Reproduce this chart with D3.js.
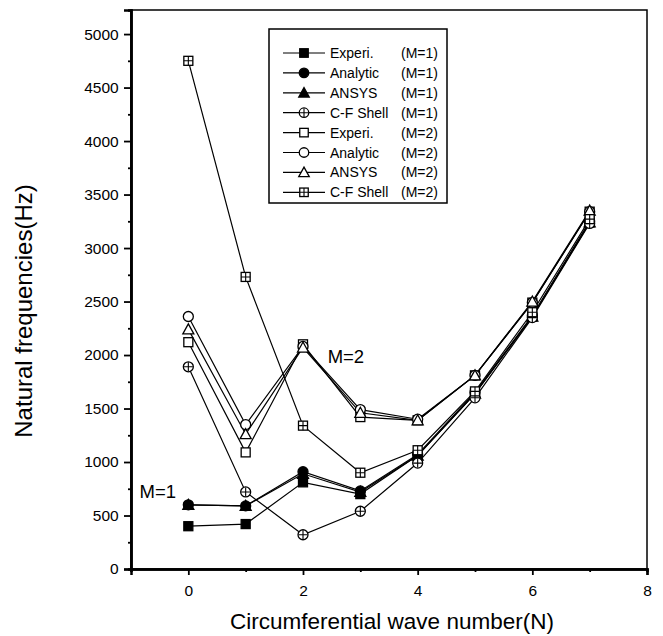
<!DOCTYPE html>
<html>
<head>
<meta charset="utf-8">
<script src="https://cdn.jsdelivr.net/npm/d3@7"></script>
<style>
  body { margin: 0; background: #fff; }
  text { font-family: "Liberation Sans", Arial, sans-serif; fill: #000; }
</style>
</head>
<body>
<div id="chart"></div>
<script>
// data
const waveN = [0, 1, 2, 3, 4, 5, 6, 7];
const experiM1   = [400, 420, 810, 700, 1060, 1640, 2360, 3240];
const analyticM1 = [600, 590, 910, 730, 1070, 1650, 2370, 3250];
const ansysM1    = [600, 590, 890, 720, 1060, 1640, 2360, 3240];
const cfShellM1  = [1890, 720, 320, 540, 990, 1600, 2350, 3230];
const experiM2   = [2120, 1090, 2100, 1420, 1390, 1810, 2490, 3340];
const analyticM2 = [2360, 1350, 2080, 1490, 1400, 1810, 2490, 3340];
const ansysM2    = [2240, 1260, 2070, 1460, 1390, 1810, 2500, 3350];
const cfShellM2  = [4750, 2730, 1340, 900, 1110, 1660, 2400, 3270];

const seriesNames = ["Experi.", "Analytic", "ANSYS", "C-F Shell", "Experi.", "Analytic", "ANSYS", "C-F Shell"];
const seriesModes = ["(M=1)", "(M=1)", "(M=1)", "(M=1)", "(M=2)", "(M=2)", "(M=2)", "(M=2)"];
const seriesMarks = ["sqFill", "ciFill", "trFill", "ciPlus", "sqOpen", "ciOpen", "trOpen", "sqPlus"];
const seriesVals  = [experiM1, analyticM1, ansysM1, cfShellM1, experiM2, analyticM2, ansysM2, cfShellM2];

const xTicks = [0, 2, 4, 6, 8];
const yTicks = [0, 500, 1000, 1500, 2000, 2500, 3000, 3500, 4000, 4500, 5000];

const W = 663, H = 636;
const margin = {left: 131, right: 16, top: 10, bottom: 67};
const w = W - margin.left - margin.right, h = H - margin.top - margin.bottom;

const svg = d3.select("#chart").append("svg").attr("width", W).attr("height", H);
const g = svg.append("g").attr("transform", "translate(" + margin.left + "," + margin.top + ")");

const x = d3.scaleLinear().domain([-1, 8]).range([0, w]);
const y = d3.scaleLinear().domain([0, 5225]).range([h, 0]);

// frame
g.append("rect").attr("width", w).attr("height", h)
  .attr("fill", "none").attr("stroke", "#000").attr("stroke-width", 1.5);

// axes
let xAxis = g.append("g").attr("transform", "translate(0," + h + ")")
  .call(d3.axisBottom(x).tickValues(xTicks).tickSize(6).tickFormat(d3.format("d")));
let xMinor = g.append("g").attr("transform", "translate(0," + h + ")")
  .call(d3.axisBottom(x).tickValues([-1, 1, 3, 5, 7]).tickSize(3).tickFormat(""));
let yAxis = g.append("g")
  .call(d3.axisLeft(y).tickValues(yTicks).tickSize(7).tickFormat(d3.format("d")));
let yMinor = g.append("g")
  .call(d3.axisLeft(y).tickValues(yTicks.slice(0, -1).map(d => d + 250)).tickSize(3).tickFormat(""));
[xAxis, xMinor, yAxis, yMinor].forEach(function(a){
  a.select(".domain").attr("stroke-width", 2.5);
  a.selectAll("line").attr("stroke-width", 1.8);
});
xAxis.selectAll("text").attr("font-size", 15.5).attr("dy", "1.15em");
yAxis.selectAll("text").attr("font-size", 15.5).attr("dx", "-0.15em");

// axis titles
svg.append("text").attr("x", 392).attr("y", 629)
  .attr("text-anchor", "middle").attr("font-size", 22.5)
  .text("Circumferential wave number(N)");
svg.append("text").attr("transform", "translate(32,311) rotate(-90)")
  .attr("text-anchor", "middle").attr("font-size", 24)
  .text("Natural frequencies(Hz)");

// marker drawing
function drawMark(sel, type, s){
  let r = s / 2;
  if (type.startsWith("sq")) {
    sel.append("rect").attr("x", -r).attr("y", -r).attr("width", s).attr("height", s)
      .attr("fill", type == "sqFill" ? "#000" : "#fff").attr("stroke", "#000").attr("stroke-width", 1.3);
  } else if (type.startsWith("ci")) {
    sel.append("circle").attr("r", r + 0.5)
      .attr("fill", type == "ciFill" ? "#000" : "#fff").attr("stroke", "#000").attr("stroke-width", 1.3);
  } else {
    sel.append("path").attr("d", "M0," + (-r - 1) + "L" + (r + 1) + "," + (r) + "L" + (-r - 1) + "," + (r) + "Z")
      .attr("fill", type == "trFill" ? "#000" : "#fff").attr("stroke", "#000").attr("stroke-width", 1.3);
  }
  if (type.endsWith("Plus")) {
    sel.append("path").attr("d", "M" + (-r) + ",0H" + r + "M0," + (-r) + "V" + r)
      .attr("stroke", "#000").attr("stroke-width", 1.1);
  }
}

// series lines
let line = d3.line().x((d, i) => x(waveN[i])).y(d => y(d));
seriesVals.forEach(function(vals){
  g.append("path").attr("d", line(vals))
    .attr("fill", "none").attr("stroke", "#000").attr("stroke-width", 1.2);
});
// markers
seriesVals.forEach(function(vals, k){
  vals.forEach(function(v, i){
    let m = g.append("g").attr("transform", "translate(" + x(waveN[i]) + "," + y(v) + ")");
    drawMark(m, seriesMarks[k], 9);
  });
});

// annotations
g.append("text").attr("x", x(2.43)).attr("y", y(1930)).attr("font-size", 18.5).text("M=2");
g.append("text").attr("x", x(-0.85)).attr("y", y(660)).attr("font-size", 18.5).text("M=1");

// legend
let leg = svg.append("g").attr("transform", "translate(269,29)");
leg.append("rect").attr("width", 178).attr("height", 174)
  .attr("fill", "#fff").attr("stroke", "#000").attr("stroke-width", 1.5);
seriesNames.forEach(function(name, k){
  let ly = 24 + k * 19.9;
  leg.append("line").attr("x1", 14).attr("x2", 56).attr("y1", ly).attr("y2", ly)
    .attr("stroke", "#000").attr("stroke-width", 1.2);
  let m = leg.append("g").attr("transform", "translate(35," + ly + ")");
  drawMark(m, seriesMarks[k], 8.5);
  let t = leg.append("text").attr("x", 61).attr("y", ly + 5).attr("font-size", 14).text(name);
  let end = 61 + t.node().getComputedTextLength();
  leg.append("text").attr("x", Math.max(132, end + 4)).attr("y", ly + 5)
    .attr("font-size", 14).text(seriesModes[k]);
});
</script>
</body>
</html>
